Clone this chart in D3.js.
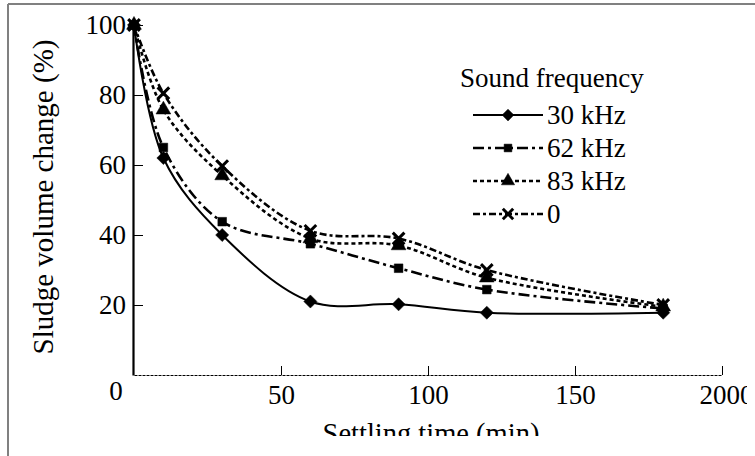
<!DOCTYPE html>
<html><head><meta charset="utf-8">
<script src="https://cdn.jsdelivr.net/npm/d3@7"></script>
</head><body style="margin:0;padding:0;background:#fff;">
<svg id="chart" width="755" height="456" style="display:block"></svg>
<script>
const times = [0, 10, 30, 60, 90, 120, 180];
const seriesNames = ["30 kHz", "62 kHz", "83 kHz", "0"];
const s30 = [100, 62, 40, 21, 20.2, 17.8, 17.8];
const s62 = [100, 65, 43.8, 37.5, 30.5, 24.4, 19];
const s83 = [100, 75.8, 57, 39, 37, 27.8, 19.5];
const s0  = [100, 80.5, 59.7, 41.2, 39, 30, 20];
const yTicks = [20, 40, 60, 80, 100];
const xTicks = [50, 100, 150, 200];
const xTickLabels = ["50", "100", "150", "2000"];
const xTitle = "Settling time (min)";
const yTitle = "Sludge volume change (%)";
const legendTitle = "Sound frequency";

const FONT = '"Liberation Serif"';
function tx(sel, size) { return sel.style("font-family", FONT).style("font-size", size + "px").attr("fill", "#000"); }

const svg = d3.select("#chart");
const x = d3.scaleLinear().domain([0, 200]).range([134, 722]);
const y = d3.scaleLinear().domain([0, 100]).range([375, 25]);

svg.append("defs").append("clipPath").attr("id", "clip")
  .append("rect").attr("x", 8).attr("y", 4).attr("width", 739).attr("height", 432);

const g = svg.append("g").attr("clip-path", "url(#clip)");

// Axes
const yAxis = d3.axisLeft(y).tickValues(yTicks).tickSize(-10).tickSizeOuter(0).tickPadding(7);
const yg = g.append("g").attr("transform", `translate(${x(0) - 1},0)`).call(yAxis);
yg.select(".domain").attr("stroke-width", 2.2);
yg.selectAll(".tick line").attr("stroke-width", 1);
tx(yg.selectAll("text"), 27);

const xAxis = d3.axisBottom(x).tickValues(xTicks).tickSize(-9).tickSizeOuter(0).tickPadding(10)
  .tickFormat((d, i) => xTickLabels[i]);
const xg = g.append("g").attr("transform", `translate(0,${y(0)})`).call(xAxis);
xg.select(".domain").attr("stroke-width", 1.2).attr("stroke-dasharray", "3,1");
xg.selectAll(".tick line").attr("stroke-width", 1);
tx(xg.selectAll("text"), 27).attr("dx", (d, i) => i === 3 ? 4 : 0);

// origin label
tx(g.append("text").attr("x", 116).attr("y", 400).attr("text-anchor", "middle"), 27).text("0");

// titles
tx(g.append("text").attr("x", 431).attr("y", 443).attr("text-anchor", "middle"), 28.5).text(xTitle);
tx(g.append("text").attr("transform", "translate(53,197) rotate(-90)")
  .attr("text-anchor", "middle"), 29).text(yTitle);

// series
const series = [s30, s62, s83, s0];
const dashes = [null, "11,4,3,4", "4,3", "7,3,3,3"];
const markers = [d3.symbolDiamond2, d3.symbolSquare, d3.symbolTriangle, d3.symbolX];
const msizes = [110, 75, 95, 90];
const line = d3.line().x((d, i) => x(times[i])).y(d => y(d)).curve(d3.curveCatmullRom.alpha(0.5));

series.forEach((s, k) => {
  g.append("path").datum(s).attr("d", line).attr("fill", "none").attr("stroke", "#000")
    .attr("stroke-width", k === 0 ? 2 : 2.6).attr("stroke-dasharray", dashes[k]);
});
series.forEach((s, k) => {
  const sym = d3.symbol().type(markers[k]).size(msizes[k]);
  g.selectAll(null).data(s).enter().append("path")
    .attr("transform", (d, i) => `translate(${x(times[i])},${y(d)})`)
    .attr("d", sym)
    .attr("fill", "#000").attr("stroke", "#000").attr("stroke-width", k === 3 ? 3 : 0.5);
});

// legend
const lg = g.append("g");
tx(lg.append("text").attr("x", 460).attr("y", 87), 27).text(legendTitle);
seriesNames.forEach((name, k) => {
  const cy = 115 + k * 33;
  lg.append("line").attr("x1", 473).attr("x2", 543).attr("y1", cy).attr("y2", cy)
    .attr("stroke", "#000").attr("stroke-width", k === 0 ? 2 : 2.6).attr("stroke-dasharray", dashes[k]);
  lg.append("path").attr("transform", `translate(508,${cy})`)
    .attr("d", d3.symbol().type(markers[k]).size(msizes[k] * 0.8))
    .attr("fill", "#000").attr("stroke", "#000").attr("stroke-width", k === 3 ? 3 : 0.5);
  tx(lg.append("text").attr("x", 547).attr("y", cy + 9), 27).text(name);
});

// frame
svg.append("line").attr("x1", 8).attr("x2", 755).attr("y1", 4).attr("y2", 4).attr("stroke", "#808080").attr("stroke-width", 2);
svg.append("line").attr("x1", 8).attr("x2", 8).attr("y1", 4).attr("y2", 456).attr("stroke", "#808080").attr("stroke-width", 2);
</script>
</body></html>
